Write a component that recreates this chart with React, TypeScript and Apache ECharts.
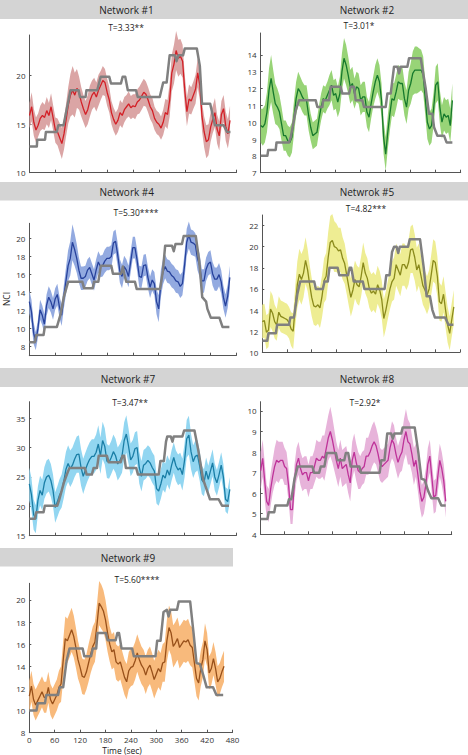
import React, { useEffect, useRef } from "react";
import * as echarts from "echarts";

// Sampling times (sec)
const TIME = [
  0, 5, 10, 15, 20, 25, 30, 35, 40, 45, 50, 55, 60, 65, 70, 75, 80, 85, 90, 95,
  100, 105, 110, 115, 120, 125, 130, 135, 140, 145, 150, 155, 160, 165, 170, 175, 180, 185, 190, 195,
  200, 205, 210, 215, 220, 225, 230, 235, 240, 245, 250, 255, 260, 265, 270, 275, 280, 285, 290, 295,
  300, 305, 310, 315, 320, 325, 330, 335, 340, 345, 350, 355, 360, 365, 370, 375, 380, 385, 390, 395,
  400, 405, 410, 415, 420, 425, 430, 435, 440, 445, 450, 455, 460, 465,
];
const X_TICKS = [0, 60, 120, 180, 240, 300, 360, 420, 480];

// ---------- Network #1 ----------
const N1_MEAN = [
  15.9, 16.8, 15.2, 14.4, 14.9, 15.6, 15.9, 15.7, 16.4, 15.9,
  16.8, 15.6, 14.4, 14.2, 13.6, 13.0, 14.0, 15.5, 17.0, 18.0,
  18.5, 18.0, 18.7, 18.2, 17.3, 16.6, 16.0, 16.5, 17.4, 18.0,
  18.3, 17.8, 18.5, 19.0, 19.5, 19.3, 18.3, 17.5, 16.2, 15.5,
  15.0, 15.4, 16.2, 15.9, 16.5, 16.8, 17.1, 16.7, 16.9, 16.8,
  17.3, 17.5, 17.9, 18.3, 18.1, 17.5, 16.8, 16.4, 15.6, 15.2,
  15.0, 14.6, 15.2, 16.2, 16.0, 17.5, 20.3, 21.2, 22.6, 21.8,
  22.0, 21.5, 18.5, 16.3, 17.6, 17.4, 18.0, 18.6, 20.3, 19.0,
  15.8, 14.2, 13.2, 13.4, 14.7, 15.5, 16.2, 14.5, 13.8, 16.0,
  16.6, 14.8, 14.0, 15.4,
];
const N1_HW = [
  1.3, 1.5, 1.4, 1.3, 1.2, 1.3, 1.4, 1.3, 1.4, 1.3,
  1.4, 1.3, 1.3, 1.4, 1.5, 1.6, 1.6, 1.7, 1.9, 2.2,
  2.5, 2.3, 2.0, 1.7, 1.5, 1.4, 1.4, 1.5, 1.6, 1.5,
  1.5, 1.5, 1.6, 1.5, 1.5, 1.4, 1.4, 1.3, 1.2, 1.2,
  1.2, 1.2, 1.3, 1.3, 1.3, 1.2, 1.3, 1.2, 1.2, 1.3,
  1.3, 1.4, 1.4, 1.4, 1.3, 1.3, 1.3, 1.3, 1.2, 1.2,
  1.2, 1.2, 1.3, 1.4, 1.5, 1.7, 1.9, 2.0, 2.0, 1.9,
  1.8, 1.7, 1.6, 1.5, 1.5, 1.4, 1.4, 1.5, 1.5, 1.5,
  1.5, 1.6, 1.7, 1.6, 1.5, 1.4, 1.5, 1.5, 1.5, 1.4,
  1.4, 1.5, 1.5, 1.5,
];
const N1_STEP = [
  [0, 12.7], [17, 12.7], [18, 13.4], [36, 13.4], [38, 14.2], [63, 14.2], [67, 14.9], [79, 14.9],
  [95, 18.5], [114, 18.5], [117, 17.8], [130, 17.8], [132, 18.5], [157, 18.5], [165, 19.9], [185, 19.9],
  [189, 19.2], [212, 19.2], [216, 19.9], [222, 19.9], [228, 18.5], [247, 18.5], [251, 17.8], [302, 17.8],
  [310, 19.3], [318, 19.3], [325, 22.1], [337, 22.1], [341, 21.5], [345, 22.1], [356, 22.1], [360, 22.8],
  [388, 22.8], [395, 21.0], [400, 17.1], [419, 17.1], [430, 14.9], [450, 14.9], [458, 14.2], [466, 14.2],
];

// ---------- Network #2 ----------
const N2_MEAN = [
  9.8, 9.7, 9.9, 10.6, 11.9, 12.6, 11.8, 11.1, 10.9, 10.6,
  9.9, 9.2, 9.2, 8.9, 8.8, 9.1, 10.3, 11.4, 12.0, 11.8,
  11.5, 11.3, 11.3, 10.4, 9.7, 9.2, 9.3, 9.4, 10.2, 10.9,
  11.4, 11.3, 11.6, 11.9, 12.2, 11.6, 11.7, 11.2, 11.7, 13.0,
  13.8, 13.4, 12.8, 12.1, 12.3, 11.7, 12.1, 12.0, 11.3, 11.5,
  11.5, 10.6, 10.3, 11.1, 11.8, 12.4, 12.8, 12.4, 11.3, 9.1,
  8.1, 9.4, 10.5, 11.4, 11.3, 11.8, 12.4, 12.3, 12.3, 11.4,
  10.9, 11.9, 12.3, 12.9, 13.1, 13.1, 13.1, 13.1, 12.8, 11.4,
  10.0, 9.6, 9.8, 10.8, 12.2, 12.4, 10.9, 10.0, 10.5, 10.3,
  10.4, 9.8, 11.3,
];
const N2_HW = [
  1.0, 1.1, 1.1, 1.2, 1.3, 1.4, 1.3, 1.2, 1.1, 1.0,
  1.0, 0.9, 0.9, 0.9, 0.9, 0.9, 1.0, 1.0, 1.0, 0.9,
  0.9, 0.9, 0.9, 0.9, 0.8, 0.8, 0.8, 0.8, 0.8, 0.8,
  0.8, 0.8, 0.8, 0.9, 0.9, 0.9, 0.9, 0.9, 1.0, 1.1,
  1.2, 1.2, 1.1, 1.0, 1.0, 0.9, 0.9, 0.9, 0.9, 0.9,
  0.9, 0.9, 0.9, 0.9, 0.9, 1.0, 1.0, 1.0, 1.0, 1.0,
  1.0, 1.0, 1.0, 1.0, 1.0, 1.0, 1.0, 1.0, 1.0, 1.0,
  1.0, 1.1, 1.2, 1.3, 1.4, 1.4, 1.3, 1.2, 1.1, 1.0,
  1.0, 1.0, 1.0, 1.0, 1.1, 1.1, 1.0, 1.0, 1.0, 1.0,
  1.0, 1.0, 1.0,
];
const N2_STEP = [
  [0, 8.0], [16, 8.0], [18, 8.35], [36, 8.35], [38, 8.8], [68, 8.8], [72, 9.1], [84, 10.7],
  [92, 11.3], [132, 11.3], [136, 10.9], [148, 10.9], [150, 11.3], [164, 11.3], [168, 12.1], [192, 12.1],
  [196, 11.7], [212, 11.7], [216, 12.1], [224, 12.1], [228, 11.3], [244, 11.3], [248, 10.9], [300, 10.9],
  [304, 11.7], [312, 11.7], [320, 13.3], [328, 13.3], [332, 12.9], [336, 13.3], [352, 13.3], [356, 13.8],
  [384, 13.8], [396, 12.0], [404, 10.5], [412, 10.5], [416, 9.7], [424, 9.2], [440, 9.2], [446, 8.8],
  [460, 8.8],
];

// ---------- Network #4 ----------
const N4_MEAN = [
  13.0, 11.9, 9.5, 8.6, 10.0, 12.1, 11.5, 10.5, 12.6, 13.5,
  13.0, 12.2, 13.3, 13.8, 12.4, 11.5, 13.5, 15.3, 17.0, 17.8,
  19.6, 18.8, 17.8, 16.5, 15.6, 15.6, 15.8, 16.5, 16.8, 16.1,
  15.4, 16.5, 17.4, 16.9, 17.0, 17.5, 17.8, 17.8, 18.0, 19.5,
  19.7, 18.2, 16.4, 15.8, 16.9, 16.5, 15.8, 17.4, 19.0, 19.0,
  17.6, 15.8, 15.7, 17.0, 17.1, 15.7, 14.6, 15.4, 15.0, 13.0,
  12.2, 15.0, 16.3, 16.9, 16.4, 16.3, 15.9, 15.7, 15.3, 15.2,
  14.7, 15.0, 17.0, 19.6, 20.4, 19.6, 19.5, 19.3, 17.8, 17.0,
  15.3, 15.3, 16.6, 17.2, 17.4, 16.1, 15.5, 15.5, 16.0, 15.2,
  13.5, 12.5, 13.6, 15.7,
];
const N4_HW = [
  1.3, 1.3, 1.2, 1.0, 1.0, 1.1, 1.1, 1.1, 1.2, 1.2,
  1.2, 1.2, 1.2, 1.2, 1.2, 1.2, 1.3, 1.5, 1.7, 1.9,
  2.0, 1.8, 1.6, 1.4, 1.3, 1.3, 1.2, 1.2, 1.2, 1.2,
  1.2, 1.2, 1.2, 1.2, 1.2, 1.3, 1.3, 1.3, 1.3, 1.3,
  1.3, 1.3, 1.3, 1.3, 1.2, 1.2, 1.2, 1.2, 1.2, 1.2,
  1.2, 1.2, 1.2, 1.2, 1.2, 1.2, 1.2, 1.2, 1.3, 1.4,
  1.5, 1.5, 1.4, 1.3, 1.3, 1.3, 1.3, 1.3, 1.3, 1.3,
  1.3, 1.3, 1.4, 1.5, 1.5, 1.4, 1.4, 1.3, 1.3, 1.3,
  1.3, 1.3, 1.3, 1.3, 1.3, 1.3, 1.3, 1.3, 1.3, 1.3,
  1.3, 1.3, 1.3, 1.3,
];
const N4_STEP = [
  [0, 8.5], [13, 8.5], [16, 9.3], [33, 9.3], [36, 10.2], [64, 10.2], [72, 11.5], [80, 13.5],
  [90, 15.2], [123, 15.2], [127, 14.5], [147, 14.5], [150, 15.2], [160, 15.2], [166, 17.0], [190, 17.0],
  [194, 16.1], [213, 16.1], [217, 16.9], [220, 16.1], [225, 15.2], [245, 15.2], [249, 14.4], [303, 14.4],
  [306, 15.2], [310, 16.5], [315, 19.2], [331, 19.2], [335, 18.6], [339, 19.4], [354, 19.4], [358, 20.3],
  [386, 20.3], [394, 17.5], [401, 13.5], [410, 13.0], [413, 12.2], [421, 11.2], [441, 11.2], [448, 10.2],
  [464, 10.2],
];

// ---------- Network #5 ----------
const N5_MEAN = [
  12.9, 13.0, 11.9, 12.1, 14.1, 13.7, 12.9, 12.6, 13.8, 13.4,
  13.3, 13.2, 13.1, 12.8, 12.2, 12.0, 14.4, 16.4, 17.4, 16.9,
  17.5, 18.7, 17.8, 16.4, 15.2, 14.4, 14.3, 14.5, 14.2, 15.3,
  16.8, 17.2, 19.0, 20.4, 20.6, 20.0, 19.9, 19.6, 19.7, 18.9,
  18.4, 17.3, 16.2, 15.2, 15.9, 16.9, 16.4, 16.2, 17.2, 18.5,
  17.5, 17.0, 16.0, 15.6, 15.8, 15.5, 16.4, 15.9, 15.0, 13.2,
  14.0, 15.0, 16.0, 16.7, 17.0, 18.3, 17.8, 17.3, 18.3, 18.3,
  17.9, 18.5, 19.7, 19.8, 19.0, 17.8, 18.3, 17.3, 16.3, 15.9,
  15.4, 16.0, 17.3, 18.7, 18.5, 17.2, 14.8, 14.6, 15.5, 14.0,
  12.6, 11.8, 13.1, 14.3,
];
const N5_HW = [
  1.6, 1.6, 1.6, 1.6, 1.7, 1.7, 1.6, 1.5, 1.5, 1.5,
  1.5, 1.5, 1.5, 1.5, 1.6, 1.7, 1.9, 2.2, 2.4, 2.4,
  2.3, 2.2, 2.0, 1.9, 1.8, 1.8, 1.8, 1.8, 1.9, 2.0,
  2.1, 2.2, 2.4, 2.5, 2.5, 2.4, 2.3, 2.2, 2.1, 2.0,
  1.9, 1.8, 1.8, 1.8, 1.8, 1.8, 1.8, 1.8, 1.9, 1.9,
  1.9, 1.9, 1.8, 1.8, 1.8, 1.8, 1.8, 1.8, 1.8, 1.8,
  1.8, 1.8, 1.9, 1.9, 2.0, 2.0, 2.0, 2.0, 2.0, 2.0,
  2.0, 2.1, 2.2, 2.3, 2.2, 2.1, 2.0, 1.9, 1.8, 1.8,
  1.8, 1.8, 1.9, 2.0, 2.0, 1.9, 1.8, 1.7, 1.7, 1.7,
  1.7, 1.6, 1.6, 1.6,
];
const N5_STEP = [
  [0, 11.1], [12, 11.1], [15, 11.8], [33, 11.8], [36, 12.6], [65, 12.6], [68, 13.3], [77, 13.3],
  [85, 15.5], [92, 16.7], [126, 16.7], [130, 16.0], [147, 16.0], [151, 16.7], [159, 16.7], [163, 18.0],
  [183, 18.0], [187, 17.3], [208, 17.3], [212, 18.0], [216, 18.0], [222, 16.7], [244, 16.7], [248, 16.0],
  [297, 16.0], [301, 17.3], [309, 17.3], [315, 19.5], [320, 20.0], [326, 20.0], [330, 19.4], [334, 20.0],
  [354, 20.0], [358, 20.7], [383, 20.7], [392, 18.0], [399, 15.3], [407, 15.3], [413, 14.0], [419, 13.3],
  [444, 13.3], [452, 12.6], [464, 12.6],
];

// ---------- Network #7 ----------
const N7_MEAN = [
  23.8, 22.0, 18.6, 17.8, 21.0, 22.7, 21.9, 24.0, 25.0, 25.3,
  24.4, 22.7, 19.8, 20.8, 21.9, 22.6, 24.3, 26.3, 27.3, 26.4,
  27.0, 28.0, 28.8, 28.9, 26.6, 25.1, 26.2, 27.2, 28.0, 28.5,
  28.5, 29.2, 30.6, 28.6, 31.2, 30.2, 27.7, 27.5, 28.3, 29.3,
  28.6, 27.2, 27.8, 28.6, 31.2, 32.3, 30.3, 27.9, 28.5, 29.8,
  30.0, 26.6, 25.1, 27.0, 27.3, 27.8, 27.4, 26.6, 26.0, 23.0,
  22.6, 23.8, 25.3, 24.8, 26.2, 25.3, 27.0, 28.3, 26.9, 26.2,
  26.5, 25.4, 27.8, 31.5, 32.1, 29.3, 27.6, 28.5, 28.7, 26.9,
  24.5, 24.0, 26.0, 24.6, 26.0, 27.4, 25.0, 24.0, 25.4, 27.0,
  25.0, 21.2, 20.8, 22.9,
];
const N7_HW = [
  2.8, 2.8, 2.6, 2.4, 2.4, 2.5, 2.6, 2.7, 2.8, 2.8,
  2.8, 2.7, 2.6, 2.6, 2.7, 2.8, 2.9, 3.0, 3.1, 3.1,
  3.0, 3.0, 3.1, 3.2, 3.1, 3.0, 2.9, 2.9, 2.9, 2.9,
  2.9, 3.0, 3.2, 3.1, 3.2, 3.1, 2.9, 2.8, 2.8, 2.9,
  2.9, 2.8, 2.8, 2.9, 3.1, 3.2, 3.0, 2.8, 2.8, 2.8,
  2.8, 2.7, 2.6, 2.6, 2.6, 2.6, 2.6, 2.6, 2.6, 2.5,
  2.5, 2.5, 2.5, 2.5, 2.5, 2.5, 2.6, 2.6, 2.6, 2.6,
  2.6, 2.7, 2.9, 3.2, 3.3, 3.0, 2.8, 2.7, 2.6, 2.5,
  2.4, 2.3, 2.3, 2.3, 2.3, 2.3, 2.3, 2.2, 2.2, 2.2,
  2.2, 2.1, 2.1, 2.1,
];
const N7_STEP = [
  [0, 17.9], [13, 17.9], [16, 19.0], [33, 19.0], [36, 20.1], [65, 20.1], [69, 21.0], [80, 24.0],
  [89, 25.8], [93, 26.5], [129, 26.5], [133, 25.4], [145, 25.4], [149, 26.5], [157, 26.5], [161, 28.6],
  [180, 28.6], [184, 27.5], [212, 27.5], [216, 28.6], [220, 28.6], [224, 26.5], [248, 26.5], [252, 25.4],
  [300, 25.4], [304, 27.7], [312, 27.7], [317, 31.0], [320, 31.9], [328, 31.9], [332, 31.0], [335, 31.9],
  [355, 31.9], [359, 32.9], [383, 32.9], [392, 29.5], [403, 24.6], [411, 22.9], [419, 21.2], [439, 21.2],
  [447, 20.1], [463, 20.1],
];

// ---------- Network #8 ----------
const N8_MEAN = [
  7.1, 7.7, 6.6, 5.6, 5.4, 6.2, 6.8, 7.3, 7.6, 7.5,
  7.6, 7.6, 7.3, 7.2, 6.4, 5.2, 5.2, 6.6, 7.4, 7.7,
  7.2, 6.9, 7.0, 7.0, 6.6, 7.0, 7.0, 7.3, 7.7, 7.6,
  7.6, 7.8, 7.7, 8.2, 8.7, 9.0, 8.6, 8.1, 7.6, 7.2,
  7.7, 7.2, 7.3, 7.4, 6.9, 6.5, 7.6, 8.0, 7.5, 7.1,
  7.0, 7.2, 7.3, 7.8, 7.8, 8.0, 8.3, 8.5, 8.3, 7.9,
  7.4, 7.3, 7.4, 7.5, 7.6, 8.2, 8.6, 8.4, 7.9, 7.5,
  7.8, 8.0, 8.6, 9.0, 8.5, 8.4, 7.9, 7.3, 7.6, 6.9,
  6.1, 5.6, 5.8, 6.4, 7.4, 7.8, 6.8, 5.8, 5.9, 6.8,
  7.6, 7.2, 6.6, 5.6,
];
const N8_HW = [
  0.9, 0.9, 0.9, 0.8, 0.8, 0.8, 0.8, 0.9, 1.0, 1.0,
  0.9, 0.9, 0.9, 0.8, 0.8, 0.7, 0.7, 0.8, 0.8, 0.8,
  0.8, 0.8, 0.8, 0.8, 0.8, 0.8, 0.8, 0.8, 0.9, 0.9,
  0.9, 1.0, 1.1, 1.1, 1.1, 1.2, 1.1, 1.0, 0.9, 0.9,
  0.9, 0.9, 0.9, 0.9, 0.9, 0.9, 0.9, 0.9, 0.9, 0.9,
  0.8, 0.8, 0.8, 0.9, 0.9, 1.0, 1.0, 1.0, 0.9, 0.9,
  0.8, 0.8, 0.8, 0.8, 0.8, 0.8, 0.9, 0.9, 0.8, 0.8,
  0.8, 0.9, 1.0, 1.1, 1.1, 1.0, 0.9, 0.9, 0.8, 0.8,
  0.8, 0.8, 0.8, 0.8, 0.8, 0.8, 0.8, 0.8, 0.8, 0.8,
  0.8, 0.8, 0.8, 0.8,
];
const N8_STEP = [
  [0, 4.75], [17, 4.75], [20, 5.07], [34, 5.07], [37, 5.4], [67, 5.4], [71, 5.7], [77, 5.7],
  [85, 6.7], [93, 7.3], [130, 7.3], [134, 7.0], [147, 7.0], [151, 7.3], [160, 7.3], [166, 7.95],
  [189, 7.95], [193, 7.6], [210, 7.6], [214, 7.95], [220, 7.95], [226, 7.3], [248, 7.3], [252, 7.0],
  [299, 7.0], [303, 7.6], [311, 7.6], [318, 8.9], [328, 8.9], [332, 8.65], [336, 8.9], [353, 8.9],
  [357, 9.2], [387, 9.2], [396, 8.0], [404, 6.7], [412, 6.65], [421, 6.1], [429, 5.75], [446, 5.75],
  [454, 5.4], [465, 5.4],
];

// ---------- Network #9 ----------
const N9_MEAN = [
  11.3, 12.2, 11.0, 10.5, 10.9, 11.3, 11.7, 11.2, 11.2, 12.1,
  11.0, 10.6, 11.0, 11.4, 12.1, 12.4, 14.5, 16.5, 16.3, 16.8,
  17.3, 16.7, 15.7, 14.6, 13.9, 13.1, 13.0, 13.5, 14.3, 15.1,
  15.8, 16.2, 17.8, 19.7, 19.4, 19.0, 18.2, 17.0, 16.0, 15.3,
  15.5, 14.4, 14.2, 14.4, 13.7, 13.0, 12.6, 13.6, 13.9, 14.0,
  14.5, 15.2, 14.6, 14.1, 13.8, 13.2, 13.8, 14.1, 13.5, 12.8,
  13.3, 13.8, 13.5, 14.3, 14.4, 16.3, 17.5, 17.0, 15.8, 16.1,
  16.5, 15.7, 16.0, 16.3, 16.2, 16.4, 15.9, 15.7, 14.3, 12.9,
  12.5, 13.8, 14.6, 16.3, 15.5, 13.4, 13.8, 14.7, 13.8, 12.6,
  12.9, 13.5, 14.0,
];
const N9_HW = [
  1.4, 1.4, 1.4, 1.4, 1.4, 1.4, 1.4, 1.4, 1.4, 1.4,
  1.4, 1.4, 1.4, 1.4, 1.5, 1.6, 1.8, 2.0, 2.0, 2.0,
  2.0, 1.9, 1.8, 1.7, 1.6, 1.6, 1.6, 1.6, 1.7, 1.7,
  1.8, 1.8, 1.9, 2.0, 2.0, 1.9, 1.8, 1.7, 1.6, 1.6,
  1.6, 1.6, 1.6, 1.6, 1.6, 1.6, 1.6, 1.7, 1.7, 1.7,
  1.7, 1.7, 1.7, 1.7, 1.7, 1.7, 1.7, 1.7, 1.7, 1.7,
  1.7, 1.7, 1.7, 1.7, 1.8, 1.9, 2.0, 2.0, 1.9, 1.9,
  1.9, 1.9, 1.9, 1.9, 1.9, 1.9, 1.8, 1.8, 1.7, 1.6,
  1.6, 1.6, 1.6, 1.6, 1.5, 1.5, 1.5, 1.5, 1.5, 1.4,
  1.4, 1.4, 1.4,
];
const N9_STEP = [
  [0, 10.0], [17, 10.0], [20, 10.65], [37, 10.65], [40, 11.4], [68, 11.4], [72, 12.1], [80, 12.1],
  [88, 14.5], [95, 15.6], [126, 15.6], [130, 14.9], [146, 14.9], [150, 15.6], [158, 15.6], [161, 17.0],
  [181, 17.0], [185, 16.35], [204, 16.35], [208, 17.0], [212, 17.0], [218, 15.6], [243, 15.6], [247, 14.9],
  [298, 14.9], [302, 16.3], [310, 16.3], [317, 18.9], [325, 19.1], [329, 18.5], [333, 19.1], [349, 19.1],
  [353, 19.85], [380, 19.85], [388, 17.0], [395, 14.3], [403, 14.2], [411, 13.2], [419, 12.1], [434, 12.1],
  [442, 11.4], [458, 11.4],
];

// Labels
const TITLES = ["Network #1", "Network #2", "Network #4", "Netwrok #5", "Network #7", "Netwrok #8", "Network #9"];
const T_STATS = ["T=3.33**", "T=3.01*", "T=5.30****", "T=4.82***", "T=3.47**", "T=2.92*", "T=5.60****"];
const Y_TICKS = [
  [10, 15, 20],
  [7, 8, 9, 10, 11, 12, 13, 14],
  [8, 10, 12, 14, 16, 18, 20],
  [10, 12, 14, 16, 18, 20, 22],
  [15, 20, 25, 30, 35],
  [4, 5, 6, 7, 8, 9, 10],
  [8, 10, 12, 14, 16, 18, 20],
];
const Y_RANGE = [
  [10, 24.2], [7, 15.3], [7, 21.7], [10, 23], [15, 37.8], [4, 10.45], [8, 21.5],
];

const FONT = "'Open Sans', Lato, sans-serif";

type Panel = {
  mean: number[]; hw: number[]; step: number[][];
  line: string; band: string;
  grid: { left: number; top: number; width: number; height: number };
  header: [number, number, number, number];
  headerText: [number, number];
  tPos: [number, number];
  xLabels: boolean;
};

const PANELS: Panel[] = [
  { mean: N1_MEAN, hw: N1_HW, step: N1_STEP, line: "#d31f26", band: "#dba5a5",
    grid: { left: 29.5, top: 35, width: 207, height: 137.7 }, header: [0, 0, 234, 19], headerText: [126.5, 10], tPos: [126, 27], xLabels: false },
  { mean: N2_MEAN, hw: N2_HW, step: N2_STEP, line: "#16792d", band: "#98d477",
    grid: { left: 260.7, top: 33, width: 200, height: 139.7 }, header: [234, 0, 234, 19], headerText: [367, 10], tPos: [359, 25.5], xLabels: false },
  { mean: N4_MEAN, hw: N4_HW, step: N4_STEP, line: "#27429c", band: "#93aae0",
    grid: { left: 29.3, top: 223.3, width: 207, height: 132.4 }, header: [0, 182, 234, 18.5], headerText: [126.7, 191.5], tPos: [136, 212.3], xLabels: false },
  { mean: N5_MEAN, hw: N5_HW, step: N5_STEP, line: "#8a8a1c", band: "#eeed93",
    grid: { left: 262.3, top: 215, width: 197.7, height: 137.3 }, header: [234, 182, 234, 18.5], headerText: [367, 191.5], tPos: [366, 208.5], xLabels: false },
  { mean: N7_MEAN, hw: N7_HW, step: N7_STEP, line: "#1a7ea6", band: "#92d6f1",
    grid: { left: 29.3, top: 401.7, width: 207, height: 134 }, header: [0, 368, 234, 19], headerText: [128, 378.5], tPos: [130, 402.5], xLabels: false },
  { mean: N8_MEAN, hw: N8_HW, step: N8_STEP, line: "#be3399", band: "#e7b3da",
    grid: { left: 260.7, top: 401.7, width: 191, height: 132.6 }, header: [234, 368, 234, 19], headerText: [367, 378.5], tPos: [365, 402], xLabels: false },
  { mean: N9_MEAN, hw: N9_HW, step: N9_STEP, line: "#98501a", band: "#f8ba7c",
    grid: { left: 29.3, top: 583.3, width: 203.2, height: 149.4 }, header: [0, 548, 233, 18.5], headerText: [128, 557.5], tPos: [137, 579], xLabels: true },
];

function buildOption() {
  const grids: any[] = [];
  const xAxes: any[] = [];
  const yAxes: any[] = [];
  const series: any[] = [];
  const graphics: any[] = [];

  PANELS.forEach((p, k) => {
    grids.push({ ...p.grid, containLabel: false });
    xAxes.push({
      gridIndex: k, type: "value", min: 0, max: 480,
      axisLine: { show: true, onZero: false, lineStyle: { color: "#555", width: 1 } },
      axisTick: { show: true, inside: true, length: 3, customValues: X_TICKS, lineStyle: { color: "#555" } },
      axisLabel: { show: p.xLabels, customValues: X_TICKS, fontSize: 8, lineHeight: 9, color: "#333", margin: 2, fontFamily: FONT },
      splitLine: { show: false },
    });
    const yt = Y_TICKS[k];
    yAxes.push({
      gridIndex: k, type: "value", min: Y_RANGE[k][0], max: Y_RANGE[k][1],
      axisLine: { show: true, onZero: false, lineStyle: { color: "#555", width: 1 } },
      axisTick: { show: true, inside: true, length: 2, customValues: yt, lineStyle: { color: "#555" } },
      axisLabel: {
        customValues: yt, fontSize: 8, color: "#333", margin: 4, fontFamily: FONT,
        formatter: (v: number) => (yt.indexOf(v) >= 0 ? String(v) : ""),
      },
      splitLine: { show: false },
    });

    const bandData = p.mean.map((m, i) => [TIME[i], +(m - p.hw[i]).toFixed(2), +(m + p.hw[i]).toFixed(2)]);
    series.push({
      type: "custom", xAxisIndex: k, yAxisIndex: k, silent: true, z: 1,
      data: bandData,
      encode: { x: 0, y: [1, 2] },
      renderItem: (params: any, api: any) => {
        if (params.dataIndex !== 0) return null;
        const pts: number[][] = [];
        for (let i = 0; i < bandData.length; i++) pts.push(api.coord([bandData[i][0], bandData[i][1]]));
        for (let i = bandData.length - 1; i >= 0; i--) pts.push(api.coord([bandData[i][0], bandData[i][2]]));
        return { type: "polygon", shape: { points: pts }, style: { fill: p.band, stroke: "none" } };
      },
    });
    series.push({
      type: "line", xAxisIndex: k, yAxisIndex: k, silent: true, z: 3,
      data: p.mean.map((m, i) => [TIME[i], m]),
      symbol: "none", lineStyle: { color: p.line, width: 1.3 },
    });
    series.push({
      type: "line", xAxisIndex: k, yAxisIndex: k, silent: true, z: 4,
      data: p.step,
      symbol: "none", lineStyle: { color: "#808080", width: 2.5, join: "round" },
    });

    const [hx, hy, hw, hh] = p.header;
    graphics.push({ type: "rect", shape: { x: hx, y: hy, width: hw, height: hh }, style: { fill: "#d4d4d4" }, silent: true, z: 0 });
    graphics.push({
      type: "text", x: p.headerText[0], y: p.headerText[1], silent: true,
      style: { text: TITLES[k], fontSize: 10, fontWeight: "normal", fontFamily: FONT, fill: "#222", align: "center", verticalAlign: "middle" },
    });
    graphics.push({
      type: "text", x: p.tPos[0], y: p.tPos[1], silent: true,
      style: { text: T_STATS[k], fontSize: 8.5, fontWeight: "normal", fontFamily: FONT, fill: "#222", align: "center", verticalAlign: "middle" },
    });
  });

  graphics.push({
    type: "text", x: 6, y: 299, rotation: Math.PI / 2, silent: true,
    style: { text: "NCI", fontSize: 8.5, fontWeight: "normal", fontFamily: FONT, fill: "#222", align: "center", verticalAlign: "middle" },
  });
  graphics.push({
    type: "text", x: 122, y: 750.5, silent: true,
    style: { text: "Time (sec)", fontSize: 8.5, fontWeight: "normal", fontFamily: FONT, fill: "#222", align: "center", verticalAlign: "middle" },
  });

  return {
    animation: false,
    backgroundColor: "#ffffff",
    textStyle: { fontFamily: FONT, fontWeight: "normal" },
    grid: grids,
    xAxis: xAxes,
    yAxis: yAxes,
    series,
    graphic: graphics,
  };
}

export default function App() {
  const ref = useRef<HTMLDivElement>(null);
  useEffect(() => {
    document.body.style.margin = "0";
    const chart = echarts.init(ref.current!, null, { renderer: "svg" });
    chart.setOption(buildOption() as any);
    return () => chart.dispose();
  }, []);
  return <div ref={ref} style={{ width: 468, height: 755 }} />;
}
